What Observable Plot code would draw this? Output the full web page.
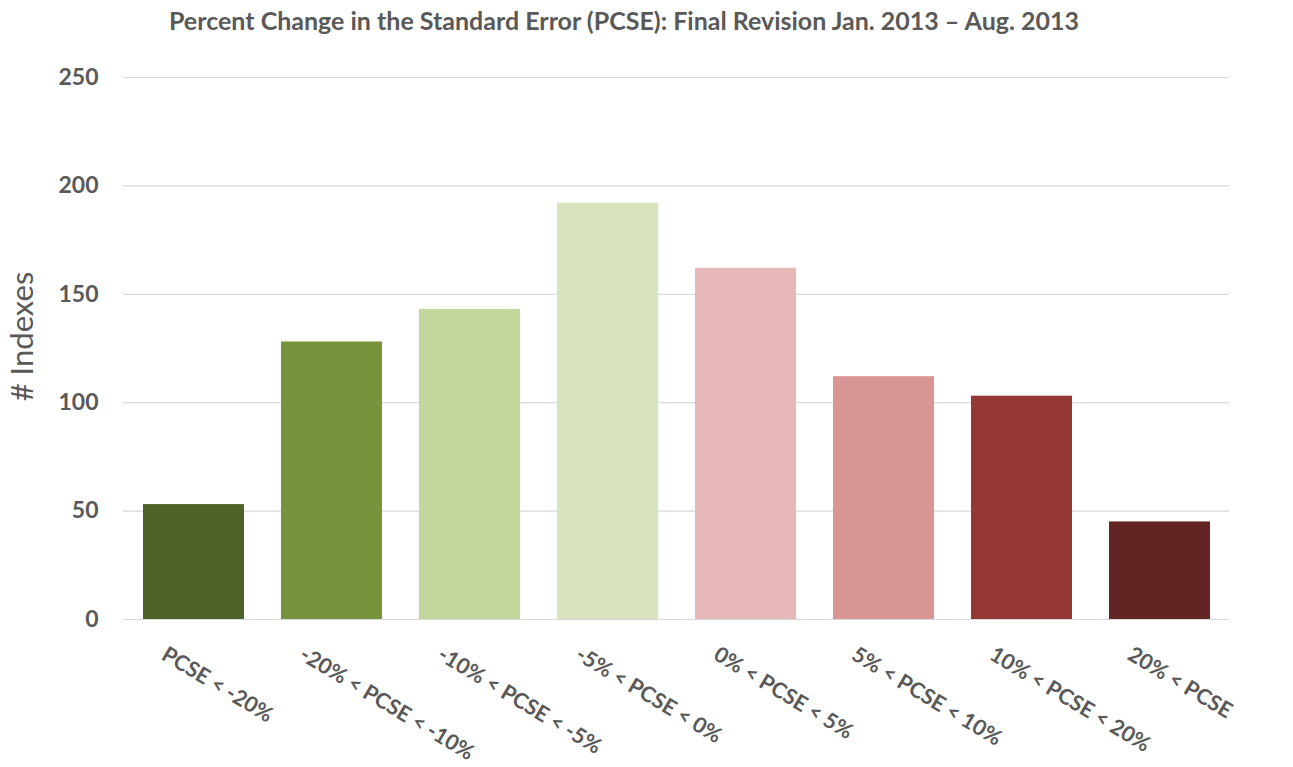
<!DOCTYPE html>
<html>
<head>
<meta charset="utf-8">
<script src="https://cdn.jsdelivr.net/npm/d3@7"></script>
<script src="https://cdn.jsdelivr.net/npm/@observablehq/plot@0.6"></script>
<style>
  html, body { margin: 0; padding: 0; background: #fff; }
  #title { width: 1248px; height: 40px; text-align: center; font-family: Lato, "Open Sans", sans-serif; font-weight: bold; font-size: 25px; color: #595959; line-height: 40px; }
  #chart svg { display: block; }
</style>
</head>
<body>
<div id="title">Percent Change in the Standard Error (PCSE): Final Revision Jan. 2013 – Aug. 2013</div>
<div id="chart"></div>
<script>
const categories = ["PCSE < -20%", "-20% < PCSE < -10%", "-10% < PCSE < -5%", "-5% < PCSE < 0%", "0% < PCSE < 5%", "5% < PCSE < 10%", "10% < PCSE < 20%", "20% < PCSE"];
const counts = [53, 128, 143, 192, 162, 112, 103, 45];
const colors = ["#4F6228", "#77933C", "#C3D69B", "#D7E4BD", "#E6B9B8", "#D99594", "#953735", "#632523"];
const yTicks = [0, 50, 100, 150, 200, 250];
const yLabel = "# Indexes";

const data = categories.map((c, i) => ({category: c, count: counts[i], color: colors[i]}));

const chart = Plot.plot({
  width: 1293,
  height: 727,
  marginTop: 37,
  marginBottom: 148,
  marginLeft: 123,
  marginRight: 64,
  style: {fontFamily: "Lato, 'Open Sans', sans-serif", color: "#595959", background: "#fff"},
  x: {domain: categories, paddingInner: 0.27, paddingOuter: 0.137, axis: null},
  y: {domain: [0, 250], axis: null},
  marks: [
    Plot.ruleY(yTicks, {stroke: "#d9d9d9", strokeWidth: 1.2}),
    Plot.barY(data, {x: "category", y: "count", fill: "color"}),
    Plot.text(yTicks, {y: d => d, text: d => String(d), frameAnchor: "left", dx: -25, textAnchor: "end", fontSize: 23, fontWeight: "bold", fill: "#595959"}),
    Plot.text(data, {x: "category", y: 0, text: "category", rotate: 31, textAnchor: "start", lineAnchor: "top", dx: -26, dy: 26, fontSize: 21.5, fontWeight: "bold", fill: "#595959"}),
    Plot.text([yLabel], {text: d => d, frameAnchor: "left", textAnchor: "middle", dx: -100, dy: -12, rotate: -90, fontSize: 31, fill: "#595959"})
  ]
});
document.getElementById("chart").append(chart);
</script>
</body>
</html>
